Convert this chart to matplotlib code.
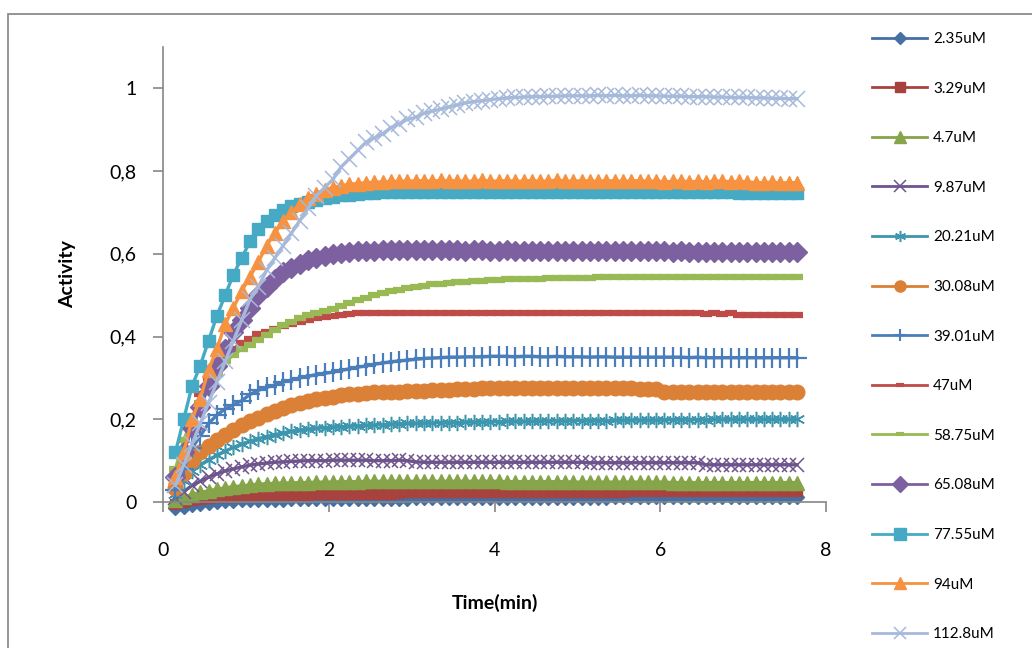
import numpy as np
import matplotlib
matplotlib.use("Agg")
import matplotlib.pyplot as plt
from matplotlib.patches import Rectangle
from matplotlib.ticker import FuncFormatter

plt.rcParams["font.family"] = ["Lato", "DejaVu Sans"]

# sampling times (min)
time = np.round(np.arange(0.15, 7.66, 0.1), 2)

labels = ["2.35uM", "3.29uM", "4.7uM", "9.87uM", "20.21uM", "30.08uM", "39.01uM",
          "47uM", "58.75uM", "65.08uM", "77.55uM", "94uM", "112.8uM"]

act_235 = [-0.015, -0.012, -0.008, -0.005, -0.002, 0.000, 0.002, 0.003, 0.004, 0.005,
           0.005, 0.006, 0.006, 0.006, 0.007, 0.007, 0.007, 0.007, 0.007, 0.008,
           0.008, 0.008, 0.008, 0.008, 0.008, 0.008, 0.008, 0.008, 0.008, 0.009,
           0.009, 0.009, 0.009, 0.009, 0.009, 0.009, 0.009, 0.009, 0.009, 0.009,
           0.009, 0.009, 0.010, 0.010, 0.010, 0.010, 0.010, 0.010, 0.010, 0.010,
           0.010, 0.010, 0.010, 0.011, 0.011, 0.011, 0.011, 0.011, 0.011, 0.011,
           0.011, 0.011, 0.011, 0.011, 0.012, 0.012, 0.012, 0.012, 0.012, 0.012,
           0.012, 0.012, 0.012, 0.012, 0.012, 0.012]
act_329 = [-0.005, 0.000, 0.004, 0.007, 0.009, 0.011, 0.012, 0.013, 0.014, 0.015,
           0.016, 0.016, 0.017, 0.017, 0.018, 0.018, 0.018, 0.019, 0.019, 0.019,
           0.020, 0.020, 0.020, 0.020, 0.020, 0.020, 0.020, 0.021, 0.024, 0.024,
           0.024, 0.024, 0.024, 0.024, 0.024, 0.025, 0.025, 0.025, 0.025, 0.025,
           0.025, 0.025, 0.025, 0.025, 0.025, 0.025, 0.025, 0.025, 0.025, 0.025,
           0.025, 0.025, 0.025, 0.025, 0.025, 0.026, 0.026, 0.026, 0.026, 0.026,
           0.026, 0.026, 0.026, 0.026, 0.026, 0.026, 0.026, 0.026, 0.026, 0.026,
           0.026, 0.026, 0.026, 0.026, 0.026, 0.026]
act_47 = [0.005, 0.012, 0.018, 0.023, 0.027, 0.031, 0.034, 0.037, 0.039, 0.041,
          0.043, 0.044, 0.045, 0.046, 0.046, 0.047, 0.047, 0.048, 0.048, 0.048,
          0.049, 0.049, 0.049, 0.050, 0.050, 0.050, 0.050, 0.050, 0.050, 0.050,
          0.050, 0.050, 0.050, 0.050, 0.050, 0.050, 0.050, 0.050, 0.050, 0.050,
          0.049, 0.049, 0.049, 0.049, 0.049, 0.049, 0.049, 0.049, 0.048, 0.048,
          0.048, 0.048, 0.048, 0.048, 0.048, 0.048, 0.048, 0.048, 0.048, 0.048,
          0.047, 0.047, 0.047, 0.047, 0.047, 0.047, 0.047, 0.047, 0.047, 0.047,
          0.047, 0.047, 0.047, 0.047, 0.047, 0.047]
act_987 = [0.010, 0.025, 0.040, 0.050, 0.060, 0.068, 0.075, 0.080, 0.085, 0.089,
           0.092, 0.094, 0.096, 0.097, 0.098, 0.099, 0.100, 0.100, 0.100, 0.101,
           0.101, 0.101, 0.101, 0.101, 0.100, 0.100, 0.100, 0.101, 0.100, 0.097,
           0.096, 0.096, 0.096, 0.096, 0.096, 0.096, 0.096, 0.096, 0.096, 0.096,
           0.096, 0.096, 0.096, 0.096, 0.096, 0.096, 0.096, 0.096, 0.096, 0.096,
           0.095, 0.095, 0.095, 0.095, 0.095, 0.095, 0.095, 0.095, 0.095, 0.095,
           0.095, 0.095, 0.095, 0.095, 0.090, 0.090, 0.090, 0.090, 0.090, 0.090,
           0.090, 0.090, 0.090, 0.090, 0.090, 0.090]
act_2021 = [0.020, 0.050, 0.075, 0.090, 0.102, 0.113, 0.123, 0.132, 0.140, 0.147,
            0.153, 0.158, 0.163, 0.167, 0.171, 0.174, 0.176, 0.178, 0.180, 0.181,
            0.182, 0.183, 0.184, 0.185, 0.186, 0.187, 0.188, 0.189, 0.190, 0.190,
            0.191, 0.191, 0.192, 0.192, 0.192, 0.193, 0.193, 0.193, 0.194, 0.194,
            0.195, 0.195, 0.195, 0.195, 0.196, 0.196, 0.196, 0.196, 0.197, 0.197,
            0.197, 0.197, 0.197, 0.198, 0.198, 0.198, 0.198, 0.198, 0.198, 0.199,
            0.199, 0.199, 0.199, 0.199, 0.199, 0.200, 0.200, 0.200, 0.200, 0.200,
            0.200, 0.200, 0.200, 0.200, 0.200, 0.200]
act_3008 = [0.035, 0.070, 0.100, 0.120, 0.135, 0.150, 0.163, 0.175, 0.185, 0.195,
            0.204, 0.212, 0.220, 0.228, 0.235, 0.240, 0.245, 0.249, 0.252, 0.255,
            0.258, 0.260, 0.262, 0.264, 0.265, 0.266, 0.267, 0.267, 0.268, 0.268,
            0.269, 0.270, 0.270, 0.271, 0.272, 0.273, 0.274, 0.275, 0.276, 0.276,
            0.276, 0.276, 0.275, 0.276, 0.276, 0.275, 0.275, 0.276, 0.276, 0.275,
            0.275, 0.275, 0.276, 0.275, 0.275, 0.275, 0.274, 0.274, 0.274, 0.266,
            0.265, 0.265, 0.265, 0.265, 0.265, 0.265, 0.265, 0.265, 0.265, 0.265,
            0.265, 0.265, 0.265, 0.265, 0.265, 0.265]
act_3901 = [0.030, 0.080, 0.130, 0.160, 0.190, 0.210, 0.225, 0.235, 0.245, 0.260,
            0.270, 0.277, 0.283, 0.290, 0.295, 0.300, 0.304, 0.308, 0.311, 0.314,
            0.318, 0.322, 0.326, 0.329, 0.333, 0.336, 0.339, 0.341, 0.343, 0.345,
            0.347, 0.348, 0.349, 0.350, 0.350, 0.351, 0.351, 0.351, 0.352, 0.352,
            0.352, 0.351, 0.352, 0.352, 0.351, 0.351, 0.352, 0.351, 0.351, 0.351,
            0.350, 0.351, 0.351, 0.350, 0.350, 0.350, 0.350, 0.350, 0.350, 0.350,
            0.350, 0.350, 0.349, 0.350, 0.349, 0.349, 0.349, 0.349, 0.349, 0.349,
            0.349, 0.349, 0.349, 0.349, 0.349, 0.349]
act_47u = [0.050, 0.120, 0.200, 0.260, 0.300, 0.330, 0.355, 0.370, 0.385, 0.395,
           0.405, 0.412, 0.418, 0.425, 0.430, 0.435, 0.440, 0.444, 0.447, 0.450,
           0.452, 0.454, 0.456, 0.457, 0.457, 0.458, 0.458, 0.458, 0.458, 0.458,
           0.458, 0.458, 0.458, 0.458, 0.458, 0.458, 0.458, 0.458, 0.458, 0.458,
           0.458, 0.458, 0.458, 0.458, 0.458, 0.458, 0.458, 0.458, 0.458, 0.458,
           0.458, 0.458, 0.458, 0.458, 0.458, 0.458, 0.458, 0.458, 0.458, 0.458,
           0.458, 0.458, 0.458, 0.458, 0.454, 0.456, 0.455, 0.457, 0.453, 0.453,
           0.453, 0.453, 0.453, 0.453, 0.453, 0.453]
act_5875 = [0.080, 0.150, 0.200, 0.240, 0.270, 0.310, 0.340, 0.355, 0.370, 0.380,
            0.392, 0.404, 0.416, 0.427, 0.436, 0.444, 0.451, 0.456, 0.461, 0.467,
            0.474, 0.481, 0.488, 0.494, 0.500, 0.505, 0.509, 0.513, 0.517, 0.520,
            0.523, 0.526, 0.528, 0.530, 0.532, 0.533, 0.534, 0.535, 0.536, 0.537,
            0.538, 0.539, 0.539, 0.540, 0.540, 0.541, 0.541, 0.541, 0.542, 0.542,
            0.542, 0.543, 0.543, 0.543, 0.543, 0.544, 0.544, 0.544, 0.544, 0.544,
            0.545, 0.545, 0.545, 0.545, 0.545, 0.545, 0.545, 0.545, 0.545, 0.545,
            0.545, 0.545, 0.545, 0.545, 0.545, 0.545]
act_6508 = [0.060, 0.120, 0.180, 0.230, 0.280, 0.330, 0.370, 0.410, 0.440, 0.470,
            0.500, 0.520, 0.540, 0.555, 0.565, 0.575, 0.585, 0.590, 0.595, 0.600,
            0.603, 0.605, 0.607, 0.608, 0.608, 0.609, 0.609, 0.609, 0.609, 0.609,
            0.609, 0.610, 0.609, 0.609, 0.609, 0.608, 0.609, 0.609, 0.608, 0.608,
            0.609, 0.608, 0.608, 0.608, 0.608, 0.607, 0.608, 0.608, 0.607, 0.607,
            0.607, 0.607, 0.607, 0.606, 0.607, 0.606, 0.606, 0.606, 0.606, 0.606,
            0.605, 0.606, 0.605, 0.605, 0.605, 0.605, 0.605, 0.604, 0.605, 0.604,
            0.604, 0.604, 0.604, 0.604, 0.604, 0.604]
act_7755 = [0.120, 0.200, 0.280, 0.330, 0.390, 0.450, 0.500, 0.550, 0.590, 0.630,
            0.660, 0.680, 0.695, 0.705, 0.715, 0.720, 0.725, 0.730, 0.735, 0.738,
            0.741, 0.743, 0.745, 0.747, 0.748, 0.749, 0.750, 0.750, 0.750, 0.750,
            0.750, 0.750, 0.750, 0.750, 0.750, 0.750, 0.750, 0.750, 0.750, 0.750,
            0.750, 0.750, 0.750, 0.750, 0.750, 0.750, 0.750, 0.750, 0.750, 0.750,
            0.750, 0.750, 0.750, 0.750, 0.750, 0.750, 0.750, 0.750, 0.750, 0.750,
            0.750, 0.750, 0.750, 0.750, 0.750, 0.750, 0.750, 0.750, 0.747, 0.747,
            0.747, 0.747, 0.747, 0.747, 0.747, 0.747]
act_94 = [0.060, 0.120, 0.200, 0.250, 0.320, 0.370, 0.430, 0.470, 0.510, 0.545,
          0.580, 0.620, 0.650, 0.680, 0.700, 0.720, 0.735, 0.745, 0.755, 0.760,
          0.765, 0.768, 0.770, 0.772, 0.773, 0.774, 0.775, 0.775, 0.776, 0.776,
          0.777, 0.775, 0.778, 0.776, 0.777, 0.775, 0.776, 0.778, 0.775, 0.776,
          0.777, 0.775, 0.776, 0.777, 0.775, 0.776, 0.778, 0.776, 0.775, 0.777,
          0.776, 0.775, 0.777, 0.776, 0.775, 0.776, 0.777, 0.775, 0.776, 0.774,
          0.775, 0.776, 0.774, 0.775, 0.774, 0.775, 0.776, 0.774, 0.775, 0.774,
          0.772, 0.772, 0.773, 0.771, 0.772, 0.772]
act_1128 = [0.040, 0.090, 0.140, 0.190, 0.240, 0.290, 0.340, 0.390, 0.440, 0.490,
            0.520, 0.560, 0.590, 0.620, 0.650, 0.680, 0.710, 0.740, 0.760, 0.780,
            0.810, 0.830, 0.850, 0.870, 0.880, 0.890, 0.905, 0.915, 0.925, 0.930,
            0.940, 0.945, 0.950, 0.955, 0.960, 0.965, 0.968, 0.970, 0.973, 0.975,
            0.977, 0.978, 0.979, 0.980, 0.980, 0.981, 0.981, 0.982, 0.982, 0.982,
            0.982, 0.983, 0.982, 0.983, 0.982, 0.982, 0.983, 0.982, 0.982, 0.981,
            0.981, 0.981, 0.980, 0.980, 0.980, 0.979, 0.979, 0.978, 0.978, 0.978,
            0.977, 0.977, 0.976, 0.976, 0.975, 0.975]

series = [act_235, act_329, act_47, act_987, act_2021, act_3008, act_3901,
          act_47u, act_5875, act_6508, act_7755, act_94, act_1128]

colors = ["#4470A5", "#A8423F", "#86A44A", "#6E548D", "#3D96AE", "#DA8137", "#4A7EBB",
          "#BE4B48", "#98B954", "#7D60A0", "#46AAC5", "#F69240", "#A7B9DB"]
markers = ["D", "s", "^", "x", (6, 2, 0), "o", "+", "_", "_", "D", "s", "^", "x"]
msizes = [7, 7.5, 9.5, 10.5, 11, 10.5, 14, 9, 9, 10.5, 9, 10, 11]
mews = [1, 1, 1, 1.1, 1.1, 1, 1.6, 4.5, 4.5, 1, 1, 1, 1.1]
leg_sizes = [6.5, 7.5, 8, 8, 8, 8, 9, 6, 6, 8, 8, 8, 8]
leg_mews = [1, 1, 1, 1.1, 1.1, 1, 1.5, 3, 3, 1, 1, 1, 1.1]

fig = plt.figure(figsize=(10.32, 6.48), dpi=100)
ax = fig.add_axes([163 / 1032, 146 / 648, 663 / 1032, 455 / 648])

for vals, lab, c, m, ms, mew in zip(series, labels, colors, markers, msizes, mews):
    ax.plot(time, vals, color=c, lw=2.4, marker=m, markersize=ms,
            markeredgewidth=mew, markerfacecolor=c, markeredgecolor=c,
            label=lab, clip_on=False)

ax.set_xlim(0, 8)
ax.set_ylim(0, 1.1)
ax.set_xticks([0, 2, 4, 6, 8])
ax.set_yticks([0, 0.2, 0.4, 0.6, 0.8, 1.0])
ax.yaxis.set_major_formatter(FuncFormatter(lambda v, p: f"{v:g}".replace(".", ",")))
for s in ["top", "right"]:
    ax.spines[s].set_visible(False)
for s in ["left", "bottom"]:
    ax.spines[s].set_color("#868686")
    ax.spines[s].set_linewidth(1.2)
ax.tick_params(axis="both", direction="out", length=7, width=1.2, color="#868686",
               labelsize=14, labelcolor="#000000")
ax.tick_params(axis="y", pad=12)
ax.tick_params(axis="x", pad=22)

ax.set_xlabel("Time(min)", fontsize=14, fontweight="bold", labelpad=25)
ax.set_ylabel("Activity", fontsize=14, fontweight="bold", labelpad=24)

leg = fig.legend(loc="upper left", bbox_to_anchor=(872 / 1032, 1 - 32 / 648),
                 frameon=False, fontsize=11, numpoints=1, handlelength=3.6,
                 handletextpad=0.4, labelspacing=2.33, borderpad=0, borderaxespad=0)
for h, s, mw in zip(leg.legend_handles, leg_sizes, leg_mews):
    h.set_linewidth(2)
    h.set_markersize(s)
    h.set_markeredgewidth(mw)

fig.patches.append(Rectangle((8 / 1032, -0.1), 1.2, 1.1 - 14 / 648,
                             transform=fig.transFigure, fill=False,
                             edgecolor="#8c8c8c", lw=1.3))

fig.savefig("out.png", dpi=100)
